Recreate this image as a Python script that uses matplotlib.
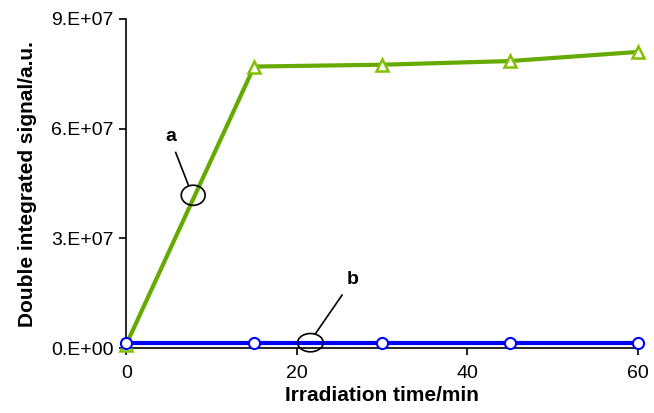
import matplotlib
matplotlib.use("Agg")
import matplotlib.pyplot as plt
from matplotlib.patches import Ellipse

plt.rcParams['font.family'] = ['Liberation Sans', 'DejaVu Sans']

time_min = [0, 15, 30, 45, 60]
signal_a = [0.1e7, 7.7e7, 7.75e7, 7.85e7, 8.1e7]
signal_b = [0.15e7, 0.15e7, 0.15e7, 0.15e7, 0.15e7]
x_ticks = [0, 20, 40, 60]
y_ticks = [0, 3e7, 6e7, 9e7]
y_tick_labels = ["0.E+00", "3.E+07", "6.E+07", "9.E+07"]

fig = plt.figure(figsize=(6.54, 4.13), dpi=100)
ax = fig.add_axes([0.193, 0.157, 0.7825, 0.797])

ax.plot(time_min, signal_a, color='#66aa00', lw=3, marker='^', ms=9,
        mfc='white', mec='#80c000', mew=1.8, zorder=3, clip_on=False)
ax.plot(time_min, signal_b, color='#0000ff', lw=3, marker='o', ms=8,
        mfc='white', mec='#0000ff', mew=1.5, zorder=4, clip_on=False)

ax.set_xlim(0, 60)
ax.set_ylim(0, 9e7)
ax.set_xticks(x_ticks)
ax.set_yticks(y_ticks)
ax.set_yticklabels(y_tick_labels)
ax.tick_params(axis='both', labelsize=14, direction='out', length=5, width=1.2)
ax.tick_params(axis='x', pad=7)
ax.tick_params(axis='y', pad=4)
for s in ['top', 'right']:
    ax.spines[s].set_visible(False)
for s in ['left', 'bottom']:
    ax.spines[s].set_linewidth(1.2)

ax.set_xlabel("Irradiation time/min", fontsize=15, fontweight='bold', labelpad=3)
ax.set_ylabel("Double integrated signal/a.u.", fontsize=15, fontweight='bold', labelpad=10)

# annotation a
ax.add_patch(Ellipse((7.85, 4.18e7), width=2.8, height=0.55e7, fill=False,
                     ec='black', lw=1.2, zorder=5))
ax.plot([5.8, 7.3], [5.35e7, 4.45e7], color='black', lw=1.2, zorder=5)
ax.text(5.2, 5.55e7, "a", fontsize=14, fontweight='bold', ha='center', va='bottom')

# annotation b
ax.add_patch(Ellipse((21.6, 0.15e7), width=3.0, height=0.5e7, fill=False,
                     ec='black', lw=1.2, zorder=5, clip_on=False))
ax.plot([25.3, 22.2], [1.45e7, 0.4e7], color='black', lw=1.2, zorder=5)
ax.text(26.5, 1.65e7, "b", fontsize=14, fontweight='bold', ha='center', va='bottom')

fig.savefig("out.png", dpi=100)
